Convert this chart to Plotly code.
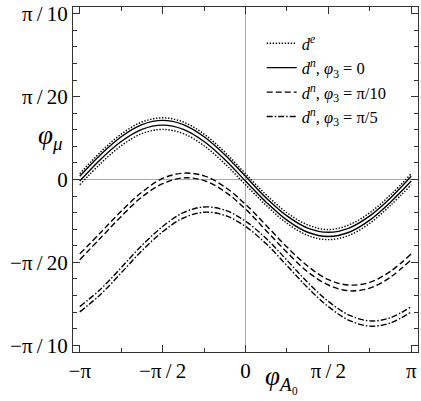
import numpy as np
import plotly.graph_objects as go

# phi_A0 sampled every pi/8 from -pi to pi
phi_a0 = np.arange(-8, 9) * np.pi / 8

# d^e (dotted pair)
de_up = [0.011, 0.052, 0.086, 0.109, 0.117, 0.109, 0.086, 0.052, 0.011,
         -0.029, -0.063, -0.086, -0.095, -0.086, -0.063, -0.029, 0.011]
de_lo = [-0.010, 0.030, 0.064, 0.087, 0.095, 0.087, 0.064, 0.030, -0.010,
         -0.049, -0.083, -0.106, -0.114, -0.106, -0.083, -0.049, -0.010]

# d^n, phi3 = 0 (solid pair)
dn0_up = [0.006, 0.047, 0.081, 0.104, 0.112, 0.104, 0.081, 0.047, 0.006,
          -0.035, -0.069, -0.092, -0.100, -0.092, -0.069, -0.035, 0.006]
dn0_lo = [-0.003, 0.038, 0.072, 0.095, 0.103, 0.095, 0.072, 0.038, -0.003,
          -0.043, -0.077, -0.100, -0.108, -0.100, -0.077, -0.043, -0.003]

# d^n, phi3 = pi/10 (dashed pair)
dn10_up = [-0.141, -0.101, -0.060, -0.024, 0.002, 0.012, 0.007, -0.014, -0.047,
           -0.087, -0.128, -0.164, -0.190, -0.200, -0.195, -0.174, -0.141]
dn10_lo = [-0.152, -0.111, -0.070, -0.033, -0.008, 0.003, -0.002, -0.023, -0.056,
           -0.097, -0.138, -0.175, -0.200, -0.211, -0.206, -0.185, -0.152]

# d^n, phi3 = pi/5 (dash-dot pair)
dn5_up = [-0.241, -0.208, -0.167, -0.125, -0.089, -0.063, -0.052, -0.058, -0.079,
          -0.112, -0.153, -0.195, -0.231, -0.257, -0.268, -0.262, -0.241]
dn5_lo = [-0.251, -0.218, -0.177, -0.135, -0.099, -0.073, -0.062, -0.068, -0.089,
          -0.122, -0.163, -0.205, -0.241, -0.267, -0.278, -0.272, -0.251]

x_ticks = [-np.pi, -np.pi / 2, 0, np.pi / 2, np.pi]
x_labels = ["−π", "−π\u2009/\u20092", "0", "π\u2009/\u20092", "π"]
y_ticks = [-np.pi / 10, -np.pi / 20, 0, np.pi / 20, np.pi / 10]
y_labels = ["−π\u2009/\u200910", "−π\u2009/\u200920", "0", "π\u2009/\u200920", "π\u2009/\u200910"]

serif = "Liberation Serif, Times New Roman, serif"
axcol = "#333333"

series = [
    ("<i>d</i><sup><i>e</i></sup>", "1.4px,1.6px", [de_up, de_lo]),
    ("<i>d</i><sup><i>n</i></sup>, <i>φ</i><sub>3</sub> = 0", "solid", [dn0_up, dn0_lo]),
    ("<i>d</i><sup><i>n</i></sup>, <i>φ</i><sub>3</sub> = π/10", "6px,3px", [dn10_up, dn10_lo]),
    ("<i>d</i><sup><i>n</i></sup>, <i>φ</i><sub>3</sub> = π/5", "6px,2px,1.5px,2px", [dn5_up, dn5_lo]),
]

fig = go.Figure()
for i, (name, dash, pair) in enumerate(series):
    for j, ys in enumerate(pair):
        fig.add_trace(go.Scatter(
            x=phi_a0, y=ys, mode="lines", name=name,
            legendgroup=f"g{i}", showlegend=(j == 0),
            line=dict(color="black", width=1.4, dash=dash, shape="spline", smoothing=1.0),
        ))

axis_common = dict(
    showgrid=False, zeroline=True, zerolinecolor="#aaaaaa", zerolinewidth=1,
    showline=True, linecolor=axcol, linewidth=1, mirror="allticks",
    ticks="inside", ticklen=7, tickcolor=axcol, tickwidth=1, automargin=False,
    tickfont=dict(family=serif, size=21, color="black"),
)

fig.update_xaxes(range=[-3.27, 3.27], tickvals=x_ticks, ticktext=x_labels,
                 minor=dict(dtick=np.pi / 4, tick0=0, ticks="inside", ticklen=4,
                            tickcolor=axcol),
                 **axis_common)
fig.update_yaxes(range=[-0.327, 0.327], tickvals=y_ticks, ticktext=y_labels,
                 minor=dict(dtick=np.pi / 100, tick0=0, ticks="inside", ticklen=4,
                            tickcolor=axcol),
                 **axis_common)

fig.add_annotation(text="<i>φ</i><sub><i>μ</i></sub>", xref="paper", yref="paper",
                   x=-0.108, y=0.622, showarrow=False,
                   font=dict(family=serif, size=27, color="black"))
fig.add_annotation(text="<i>φ</i><sub><i>A</i>₀</sub>", xref="paper", yref="paper",
                   x=0.603, y=-0.13, showarrow=False,
                   font=dict(family=serif, size=27, color="black"))

fig.update_layout(
    width=421, height=401,
    margin=dict(l=73, r=3, t=7, b=49),
    plot_bgcolor="white", paper_bgcolor="white",
    legend=dict(x=0.547, y=0.945, xanchor="left", yanchor="top",
                bgcolor="rgba(0,0,0,0)", font=dict(family=serif, size=16.5, color="black"),
                itemwidth=30, tracegroupgap=0),
)

fig.write_html("out.html", config={"displayModeBar": False},
               post_script="document.body.style.margin='0';")
